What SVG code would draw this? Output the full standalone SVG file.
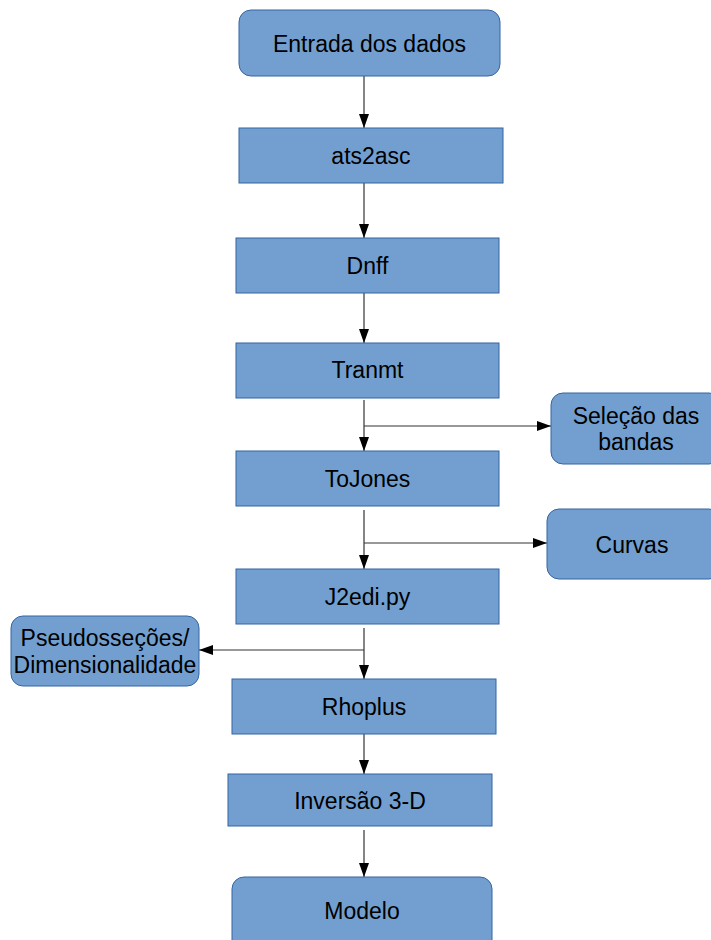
<svg xmlns="http://www.w3.org/2000/svg" width="711" height="940" viewBox="0 0 711 940">
<style>
.n{fill:#729fcf;stroke:#3465a4;stroke-width:1}
.t{font-family:"Liberation Sans",Arial,sans-serif;font-size:23px;fill:#000;text-anchor:middle;dominant-baseline:central}
.c{stroke:#333;stroke-width:1.2;fill:none}
</style>
<defs>
<marker id="a" markerWidth="14" markerHeight="10" refX="14" refY="5" viewBox="0 0 14 10" orient="auto" markerUnits="userSpaceOnUse">
<path d="M0,0 L14,5 L0,10 Z" fill="#000"/>
</marker>
</defs>
<rect width="711" height="940" fill="#fff"/>
<g id="connectors">
<line class="c" x1="364" y1="76" x2="364" y2="128" marker-end="url(#a)"/>
<line class="c" x1="364" y1="183" x2="364" y2="238" marker-end="url(#a)"/>
<line class="c" x1="364" y1="293" x2="364" y2="343" marker-end="url(#a)"/>
<line class="c" x1="364" y1="400" x2="364" y2="451" marker-end="url(#a)"/>
<line class="c" x1="364" y1="426" x2="551" y2="426" marker-end="url(#a)"/>
<line class="c" x1="364" y1="510" x2="364" y2="569" marker-end="url(#a)"/>
<line class="c" x1="364" y1="543" x2="547" y2="543" marker-end="url(#a)"/>
<line class="c" x1="364" y1="628" x2="364" y2="679" marker-end="url(#a)"/>
<line class="c" x1="364" y1="650" x2="199" y2="650" marker-end="url(#a)"/>
<line class="c" x1="364" y1="734" x2="364" y2="774" marker-end="url(#a)"/>
<line class="c" x1="364" y1="830" x2="364" y2="877" marker-end="url(#a)"/>
</g>
<g id="entrada"><rect class="n" x="239" y="10" width="261" height="66" rx="12"/><text class="t" x="369.5" y="44">Entrada dos dados</text></g>
<g id="ats2asc"><rect class="n" x="239" y="128" width="264" height="55"/><text class="t" x="371" y="156">ats2asc</text></g>
<g id="dnff"><rect class="n" x="236" y="238" width="263" height="55"/><text class="t" x="367.5" y="266">Dnff</text></g>
<g id="tranmt"><rect class="n" x="236" y="343" width="263" height="55"/><text class="t" x="367.5" y="370">Tranmt</text></g>
<g id="selecao"><rect class="n" x="551" y="393" width="170" height="71" rx="12"/><text class="t" x="636" y="416">Seleção das</text><text class="t" x="636" y="442">bandas</text></g>
<g id="tojones"><rect class="n" x="236" y="451" width="263" height="55"/><text class="t" x="367.5" y="479">ToJones</text></g>
<g id="curvas"><rect class="n" x="547" y="509" width="174" height="70" rx="12"/><text class="t" x="632" y="545">Curvas</text></g>
<g id="j2edi"><rect class="n" x="236" y="569" width="263" height="55"/><text class="t" x="367.5" y="597">J2edi.py</text></g>
<g id="pseudo"><rect class="n" x="11" y="616" width="188" height="70" rx="12"/><text class="t" x="105" y="638">Pseudosseções/</text><text class="t" x="105" y="665">Dimensionalidade</text></g>
<g id="rhoplus"><rect class="n" x="232" y="679" width="264" height="55"/><text class="t" x="364" y="707">Rhoplus</text></g>
<g id="inversao"><rect class="n" x="228" y="774" width="264" height="52"/><text class="t" x="360" y="801">Inversão 3-D</text></g>
<g id="modelo"><rect class="n" x="232" y="877" width="260" height="75" rx="12"/><text class="t" x="362" y="911">Modelo</text></g>
</svg>
